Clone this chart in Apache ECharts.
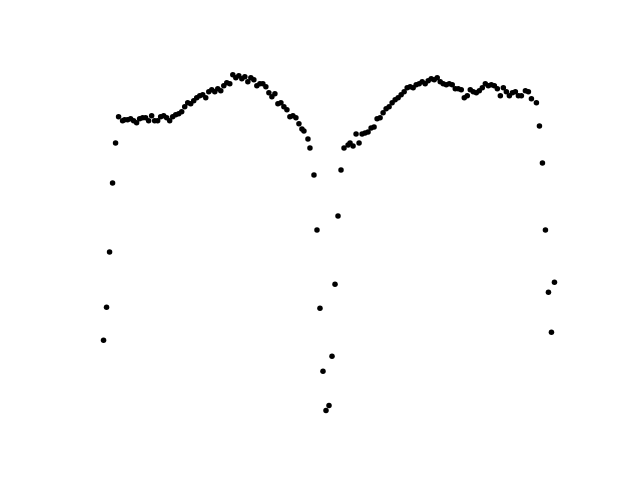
<!DOCTYPE html>
<html>
<head>
<meta charset="utf-8">
<script src="https://cdn.jsdelivr.net/npm/echarts@6/dist/echarts.min.js"></script>
<style>html,body{margin:0;padding:0;background:#fff}#c{width:640px;height:480px}</style>
</head>
<body>
<div id="c"></div>
<script>
// arbitrary units (no axes shown)
const phase = [0,3,6,9,12,15,19,21,24,27,30,33,36,39,42,45,48,51,54,57,60,63,66,69,72,75,78,81,84,87,90,93,96,99,102,105,108,111,114,117,120,123,126,129,132,135,138,141,144,147,150,153,156,159,162,165,168,171,174,177,180,183,186,189,192,195,198,200,204,206,210,213,216,219,222,225,228,231,234,237,240,244,246,249,252,255,258,261,264,267,270,273,276,279,282,285,288,291,294,297,300,303,306,309,312,315,318,321,324,327,330,333,336,339,342,345,348,351,354,357,360,363,366,369,372,375,378,381,384,387,390,393,396,399,402,405,408,411,414,417,421,424,427,432,435,438,441,444,447,450];
const flux = [70,103,158,227,267,293,289,290,290,291,289,287,291,292,292,289,294,289,289,293,294,292,289,293,295,296,298,303,307,306,309,312,314,315,312,318,320,318,321,319,324,327,326,335,332,334,331,333,328,332,330,324,326,326,323,317,313,316,306,307,303,300,293,294,292,286,281,279,271,262,235,180,102,39,0,5,54,126,194,240,262,265,267,264,276,267,276,277,278,282,283,291,292,297,301,303,307,310,312,315,318,322,323,322,325,326,328,326,329,331,330,332,328,326,325,326,325,321,321,320,312,314,320,318,317,319,322,326,324,325,324,321,314,322,318,314,317,318,314,314,319,318,311,307,284,247,180,118,78,128];

const data = phase.map((p, i) => [p, flux[i]]);
const chart = echarts.init(document.getElementById('c'), null, {renderer: 'canvas'});
chart.setOption({
  animation: false,
  backgroundColor: '#ffffff',
  grid: {left: 81, right: 63, top: 58, bottom: 52.8},
  xAxis: {type: 'value', min: -22.5, max: 472.5, show: false},
  yAxis: {type: 'value', min: -16.75, max: 351.75, show: false},
  series: [{
    type: 'scatter',
    data: data,
    symbol: 'circle',
    symbolSize: 5.5,
    itemStyle: {color: '#000000', opacity: 1}
  }]
});
</script>
</body>
</html>
